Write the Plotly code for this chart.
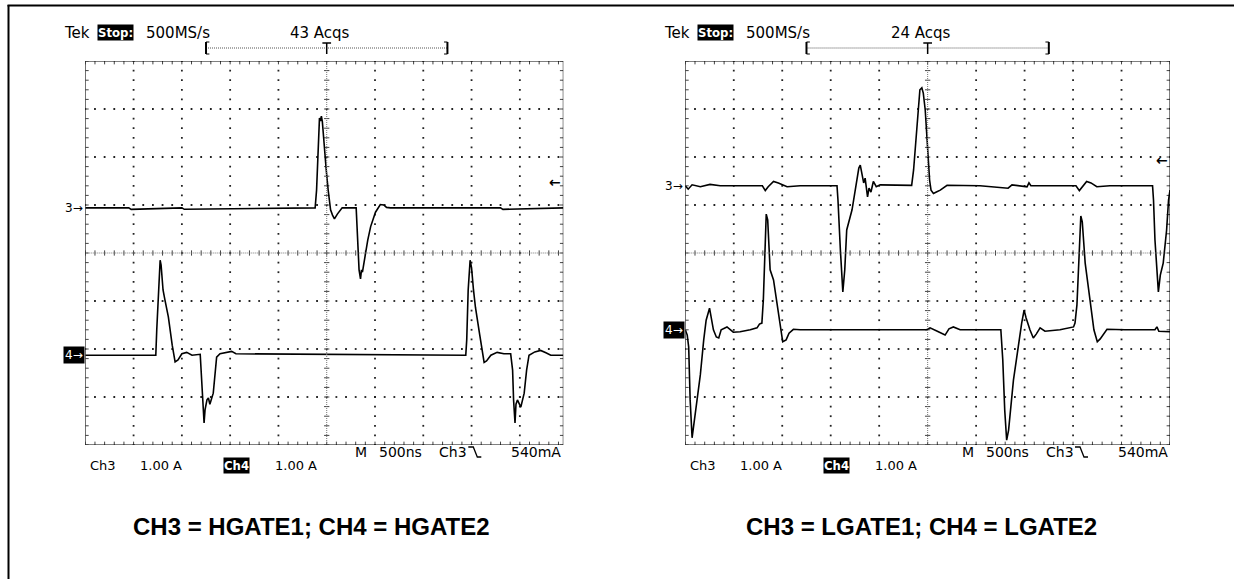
import plotly.graph_objects as go
import numpy as np

W, H = 1234, 579

# ---------------- data (time and amplitude in screen divisions) ----------------
# Left scope: CH3 = HGATE1, CH4 = HGATE2
hg1_t = [-5.0, -4.1, -4.05, -3.0, -2.95, -0.24, -0.21, -0.17, -0.15, -0.13, -0.11, -0.09, -0.05, -0.01,
         0.03, 0.08, 0.12, 0.16, 0.22, 0.32, 0.61, 0.64, 0.67, 0.70, 0.72, 0.74, 0.77, 0.80, 0.85,
         0.91, 1.01, 1.11, 1.18, 1.24, 1.32, 3.6, 3.65, 4.9]
hg1_v = [0.94, 0.94, 0.91, 0.94, 0.91, 0.94, 1.31, 2.56, 2.81, 2.75, 2.85, 2.73, 2.15, 1.73,
         1.31, 0.90, 0.79, 0.71, 0.81, 0.94, 0.94, 0.27, -0.35, -0.54, -0.35, -0.40, -0.19, 0.0, 0.27,
         0.55, 0.85, 1.01, 1.00, 0.95, 0.94, 0.94, 0.91, 0.94]

hg2_t = [-5.0, -3.54, -3.52, -3.48, -3.45, -3.43, -3.39, -3.35, -3.28, -3.20, -3.14, -3.08, -3.00, -2.90,
         -2.79, -2.62, -2.60, -2.56, -2.54, -2.52, -2.48, -2.45, -2.42, -2.35, -2.28, -2.21, -2.08, -1.97,
         -1.88, 2.88, 2.90, 2.93, 2.97, 3.00, 3.04, 3.08, 3.17, 3.26, 3.31, 3.40, 3.53, 3.67, 3.81, 3.85,
         3.87, 3.90, 3.92, 3.95, 4.02, 4.09, 4.14, 4.19, 4.31, 4.43, 4.54, 4.64, 4.9]
hg2_v = [-2.13, -2.13, -1.60, -0.56, -0.15, -0.25, -0.77, -0.98, -1.33, -1.92, -2.27, -2.23, -2.10, -2.07,
         -2.13, -2.11, -2.44, -3.27, -3.54, -3.27, -3.06, -3.02, -3.15, -2.92, -2.17, -2.10, -2.08, -2.05,
         -2.10, -2.13, -1.81, -0.77, -0.15, -0.31, -0.77, -1.13, -1.71, -2.28, -2.25, -2.13, -2.07, -2.10,
         -2.10, -2.44, -3.06, -3.54, -3.15, -3.06, -3.21, -2.92, -2.44, -2.13, -2.06, -2.03, -2.08, -2.13, -2.13]

# Right scope: CH3 = LGATE1, CH4 = LGATE2
lg1_t = [-5.0, -4.94, -4.86, -4.69, -4.49, -4.28, -3.87, -3.41, -3.35, -3.29,
         -3.18, -3.08, -2.90, -2.63, -1.87, -1.85, -1.80, -1.75, -1.71, -1.67,
         -1.56, -1.46, -1.42, -1.39, -1.36, -1.32, -1.29, -1.24, -1.21, -1.17,
         -1.12, -1.06, -0.98, -0.33, -0.29, -0.26, -0.20, -0.16, -0.12, -0.09,
         -0.05, -0.02, 0.01, 0.04, 0.07, 0.12, 0.18, 0.26, 0.40, 1.08,
         1.66, 1.74, 2.05, 2.09, 2.13, 3.06, 3.13, 3.19, 3.28, 3.37,
         3.49, 3.76, 4.64, 4.66, 4.69, 4.76, 4.80, 4.86, 4.93, 4.97, 5.0]
lg1_v = [1.40, 1.33, 1.42, 1.38, 1.43, 1.40, 1.40, 1.40, 1.30, 1.38,
         1.49, 1.46, 1.38, 1.40, 1.40, 1.10, 0.06, -0.81, -0.35, 0.48,
         0.90, 1.58, 1.77, 1.83, 1.63, 1.46, 1.56, 1.17, 1.35, 1.27,
         1.49, 1.38, 1.42, 1.41, 1.73, 2.08, 2.88, 3.40, 3.44, 3.33,
         2.98, 2.42, 1.94, 1.52, 1.31, 1.24, 1.27, 1.31, 1.41, 1.40,
         1.35, 1.42, 1.38, 1.46, 1.40, 1.40, 1.30, 1.38, 1.49, 1.46,
         1.38, 1.40, 1.40, 1.10, 0.27, -0.81, -0.46, -0.21, 0.48, 1.10, 1.31]

lg2_t = [-5.0, -4.96, -4.93, -4.90, -4.86, -4.84, -4.76, -4.69, -4.62, -4.57,
         -4.50, -4.46, -4.42, -4.36, -4.31, -4.26, -4.14, -4.01, -3.87, -3.66,
         -3.52, -3.47, -3.42, -3.39, -3.33, -3.30, -3.25, -3.18, -3.08, -2.99,
         -2.92, -2.86, -2.77, -2.63, -0.02, 0.05, 0.20, 0.36, 0.44, 0.53,
         0.67, 1.51, 1.55, 1.59, 1.63, 1.67, 1.77, 1.87, 1.94, 1.99,
         2.03, 2.11, 2.18, 2.24, 2.32, 2.42, 2.73, 3.01, 3.04, 3.08,
         3.16, 3.19, 3.25, 3.35, 3.43, 3.50, 3.56, 3.70, 4.07, 4.69,
         4.73, 4.77, 5.0]
lg2_v = [-1.60, -1.71, -1.96, -3.06, -3.85, -3.69, -3.00, -2.54, -1.81, -1.40,
         -1.15, -1.35, -1.60, -1.75, -1.77, -1.60, -1.54, -1.65, -1.64, -1.60,
         -1.56, -1.48, -1.46, -0.98, 0.81, 0.69, -0.35, -0.56, -1.29, -1.85,
         -1.81, -1.67, -1.59, -1.60, -1.60, -1.56, -1.63, -1.71, -1.58, -1.54,
         -1.60, -1.60, -2.23, -3.27, -3.90, -3.69, -2.65, -1.92, -1.46, -1.19,
         -1.35, -1.60, -1.77, -1.69, -1.56, -1.63, -1.60, -1.54, -1.46, -1.08,
         0.77, 0.65, -0.21, -0.98, -1.60, -1.85, -1.79, -1.59, -1.60, -1.60,
         -1.54, -1.63, -1.64]

# channel reference levels (div) and trigger level marker (div)
ch3_ref = [0.94, 1.40]
ch4_ref = [-2.13, -1.60]
trig_lvl = [1.48, 1.94]

# texts
acqs = ["43 Acqs", "24 Acqs"]
captions = ["CH3 = HGATE1; CH4 = HGATE2", "CH3 = LGATE1; CH4 = LGATE2"]
rate_txt = "500MS/s"
timebase = ["M", "500ns", "Ch3", "540mA"]
scale_txt = ["Ch3", "1.00 A", "Ch4", "1.00 A"]

# ---------------- figure ----------------
fig = go.Figure()
FONT = "DejaVu Sans"
FONTC = "DejaVu Sans Condensed, DejaVu Sans"


def PX(x):
    return x / W


def PY(y):
    return 1 - y / H


scopes = [
    dict(xa="x", ya="y", x0=85.3, x1=563.3, xr=(-5, 4.9),
         series=[(hg1_t, hg1_v), (hg2_t, hg2_v)]),
    dict(xa="x2", ya="y2", x0=685.3, x1=1170.0, xr=(-5, 5),
         series=[(lg1_t, lg1_v), (lg2_t, lg2_v)]),
]
Y0, Y1 = 61.0, 445.0

shapes = []
annotations = []

for i, sc in enumerate(scopes):
    xa, ya = sc["xa"], sc["ya"]
    xmin, xmax = sc["xr"]
    axn = "" if i == 0 else "2"
    fig.update_layout(**{
        "xaxis" + axn: dict(domain=[PX(sc["x0"]), PX(sc["x1"])], range=list(sc["xr"]),
                            visible=False, fixedrange=True, anchor=ya),
        "yaxis" + axn: dict(domain=[PY(Y1), PY(Y0)], range=[-4, 4],
                            visible=False, fixedrange=True, anchor=xa),
    })
    # graticule dots
    gx, gy = [], []
    ysteps = np.arange(-4, 4.0001, 0.2)
    xsteps = np.arange(-5, xmax + 1e-6, 0.2)
    for g in range(-4, 5):
        if g == 0 or g >= xmax:
            continue
        gx += [g] * len(ysteps)
        gy += list(ysteps)
    for g in range(-3, 4):
        if g == 0:
            continue
        gx += list(xsteps)
        gy += [g] * len(xsteps)
    fig.add_trace(go.Scatter(x=gx, y=gy, mode="markers", xaxis=xa, yaxis=ya,
                             marker=dict(size=1.8, color="#222", symbol="square", line=dict(width=0)),
                             hoverinfo="skip", showlegend=False))
    # ticks on center crosshair and borders
    tx, ty = [], []
    tk = 0.055
    bt = 0.07
    for yy in ysteps:
        tx += [-tk, tk, None]; ty += [yy, yy, None]
        tx += [xmin, xmin + bt, None]; ty += [yy, yy, None]
        tx += [xmax - bt, xmax, None]; ty += [yy, yy, None]
    for xx in xsteps:
        tx += [xx, xx, None]; ty += [-tk, tk, None]
        tx += [xx, xx, None]; ty += [4 - bt, 4, None]
        tx += [xx, xx, None]; ty += [-4, -4 + bt, None]
    fig.add_trace(go.Scatter(x=tx, y=ty, mode="lines", xaxis=xa, yaxis=ya,
                             line=dict(color="#444", width=1),
                             hoverinfo="skip", showlegend=False))
    # center crosshair dense dotted lines
    shapes.append(dict(type="line", xref=xa, yref=ya, x0=0, x1=0, y0=-4, y1=4,
                       line=dict(color="#777", width=1, dash="1px,1px")))
    shapes.append(dict(type="line", xref=xa, yref=ya, x0=xmin, x1=xmax, y0=0, y1=0,
                       line=dict(color="#777", width=1, dash="1px,1px")))
    # border
    shapes.append(dict(type="rect", xref=xa, yref=ya, x0=xmin, x1=xmax, y0=-4, y1=4,
                       line=dict(color="black", width=1)))
    # waveforms
    for (t, v) in sc["series"]:
        fig.add_trace(go.Scatter(x=t, y=v, mode="lines", xaxis=xa, yaxis=ya,
                                 line=dict(color="black", width=1.6),
                                 hoverinfo="skip", showlegend=False))

    xd = xa + " domain"
    # channel markers
    annotations.append(dict(text="3\u2192", xref=xd, x=0, xanchor="right", yref=ya, y=ch3_ref[i],
                            yanchor="middle", showarrow=False, font=dict(family=FONT, size=12, color="black")))
    annotations.append(dict(text="4\u2192", xref=xd, x=0, xanchor="right", yref=ya, y=ch4_ref[i],
                            yanchor="middle", showarrow=False, bgcolor="black", borderpad=1,
                            font=dict(family=FONT, size=12, color="white")))
    annotations.append(dict(text="<b>\u2190</b>", xref=xd, x=1, xanchor="right", yref=ya, y=trig_lvl[i],
                            yanchor="middle", showarrow=False, font=dict(family=FONT, size=14, color="black")))

    # header
    L = sc["x0"]
    hy = 33
    annotations.append(dict(text="Tek", xref="paper", x=PX(L - 23), xanchor="left", yref="paper", y=PY(hy),
                            yanchor="middle", showarrow=False, font=dict(family=FONT, size=15, color="black")))
    annotations.append(dict(text="<b>Stop:</b>", xref="paper", x=PX(L + 12), xanchor="left", yref="paper", y=PY(hy),
                            yanchor="middle", showarrow=False, bgcolor="black", borderpad=0,
                            font=dict(family=FONTC, size=13, color="white")))
    annotations.append(dict(text=rate_txt, xref="paper", x=PX(L + 59), xanchor="left", yref="paper", y=PY(hy),
                            yanchor="middle", showarrow=False, font=dict(family=FONT, size=15, color="black")))
    annotations.append(dict(text=acqs[i], xref=xa, x=-0.13, xanchor="center", yref="paper", y=PY(hy),
                            yanchor="middle", showarrow=False, font=dict(family=FONT, size=15, color="black")))
    # record bar with brackets and trigger-position "T" drawn as strokes
    by = 48
    shapes.append(dict(type="line", xref=xa, yref="paper", x0=-2.5, x1=2.5, y0=PY(by), y1=PY(by),
                       line=dict(color="#555", width=1, dash="1px,1px")))
    for xb in (-2.5, 2.5):
        shapes.append(dict(type="line", xref=xa, yref="paper", x0=xb, x1=xb, y0=PY(by - 6), y1=PY(by + 6),
                           line=dict(color="black", width=2)))
    for xb, xe in ((-2.5, -2.43), (2.5, 2.43)):
        for dy in (-6, 6):
            shapes.append(dict(type="line", xref=xa, yref="paper", x0=xb, x1=xe, y0=PY(by + dy), y1=PY(by + dy),
                               line=dict(color="black", width=1)))
    shapes.append(dict(type="line", xref=xa, yref="paper", x0=-0.09, x1=0.09, y0=PY(by - 5), y1=PY(by - 5),
                       line=dict(color="black", width=1.5)))
    shapes.append(dict(type="line", xref=xa, yref="paper", x0=0, x1=0, y0=PY(by - 5), y1=PY(by + 6),
                       line=dict(color="black", width=1.5)))

    # bottom-right timebase line
    ty_ = 452
    Rr = sc["x1"]
    tb_x = [Rr - 210, Rr - 186, Rr - 126, Rr - 54]
    for txt, xx in zip(timebase, tb_x):
        annotations.append(dict(text=txt, xref="paper", x=PX(xx), xanchor="left", yref="paper", y=PY(ty_),
                                yanchor="middle", showarrow=False, font=dict(family=FONT, size=14, color="black")))
    sx = Rr - 95
    shapes.append(dict(type="path", xref="paper", yref="paper",
                       path="M %f,%f L %f,%f L %f,%f L %f,%f" % (PX(sx), PY(ty_ - 5), PX(sx + 5), PY(ty_ - 5),
                                                                 PX(sx + 9), PY(ty_ + 5), PX(sx + 13), PY(ty_ + 5)),
                       line=dict(color="black", width=1.3)))

    # bottom-left scale line
    sy = 465
    sc_x = [L + 3, L + 53, L + 138, L + 188]
    for k, (txt, xx) in enumerate(zip(scale_txt, sc_x)):
        a = dict(text=txt, xref="paper", x=PX(xx), xanchor="left", yref="paper", y=PY(sy),
                 yanchor="middle", showarrow=False, font=dict(family=FONT, size=13, color="black"))
        if k == 2:
            a["bgcolor"] = "black"
            a["borderpad"] = 0
            a["font"] = dict(family=FONTC, size=13, color="white")
            a["text"] = "<b>" + txt + "</b>"
        annotations.append(a)

    # caption
    annotations.append(dict(text="<b>" + captions[i] + "</b>", xref="paper", x=PX([311, 921][i]), xanchor="center",
                            yref="paper", y=PY(526), yanchor="middle", showarrow=False,
                            font=dict(family="Liberation Sans, Arial, sans-serif", size=24, color="black")))

# outer frame (left and top edges)
shapes.append(dict(type="line", xref="paper", yref="paper", x0=PX(8.5), x1=PX(8.5), y0=PY(5), y1=-0.01,
                   line=dict(color="black", width=2)))
shapes.append(dict(type="line", xref="paper", yref="paper", x0=PX(7.5), x1=1.01, y0=PY(5.5), y1=PY(5.5),
                   line=dict(color="black", width=2)))

fig.update_layout(width=W, height=H, margin=dict(l=0, r=0, t=0, b=0), autosize=False,
                  paper_bgcolor="white", plot_bgcolor="white", showlegend=False,
                  shapes=shapes, annotations=annotations)

fig.write_html("out.html",
               config={"displayModeBar": False, "staticPlot": True},
               post_script="document.body.style.margin='0px';"
                           "document.documentElement.style.overflow='hidden';"
                           "document.body.style.overflow='hidden';")
